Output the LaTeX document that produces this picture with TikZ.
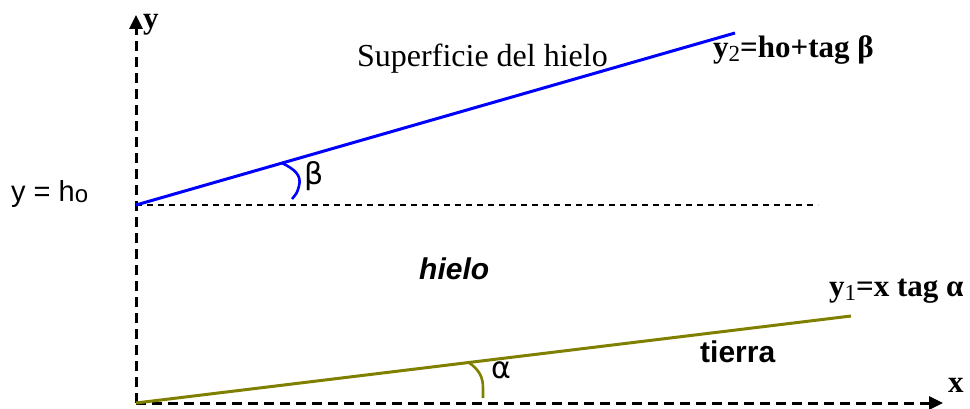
\documentclass[tikz,border=0pt]{standalone}
\usepackage{fontspec}
\setmainfont{Liberation Serif}
\setsansfont{Liberation Sans}
\newfontfamily\greeksans{DejaVu Sans}
\usetikzlibrary{arrows.meta}
\definecolor{olivec}{RGB}{128,128,0}
\definecolor{bluec}{RGB}{0,0,255}
\tikzset{
  axis/.style={line width=3pt, dash pattern=on 10pt off 6pt, -{Triangle[length=14pt,width=13pt]}},
  refline/.style={line width=1.6pt, dash pattern=on 6pt off 5pt},
  surf/.style={line width=3pt, bluec},
  ground/.style={line width=3pt, olivec},
  anglearc/.style={line width=2.6pt},
  sanslbl/.style={font=\fontsize{29}{32}\selectfont\sffamily, inner sep=0pt},
  seriflbl/.style={font=\fontsize{31}{34}\selectfont\bfseries, inner sep=0pt},
  plainserif/.style={font=\fontsize{32}{35}\selectfont, inner sep=0pt},
  greeklbl/.style={font=\fontsize{30}{33}\selectfont\greeksans, inner sep=0pt},
}
\newcommand{\mysub}[1]{\raisebox{-4pt}{\fontsize{23}{23}\selectfont\mdseries #1}}
\begin{document}
\begin{tikzpicture}[x=1pt,y=-1pt]
\useasboundingbox (0,0) rectangle (970,409);
% key points
\coordinate (O) at (136,403);
\coordinate (Ytop) at (136,15);
\coordinate (Xend) at (943,403);
\coordinate (H) at (136,205);
\coordinate (Hend) at (818,205);
\coordinate (S2) at (735,33);
\coordinate (S1) at (851,316);
% axes
\draw[axis] (O) -- (Ytop);
\draw[axis] (O) -- (Xend);
% reference line y = h_o
\draw[refline] (H) -- (Hend);
% ice surface and ground
\draw[surf] (H) -- (S2);
\draw[ground] (O) -- (S1);
% angle marks
\coordinate (b0) at (282,163);
\coordinate (b1) at (299,186);
\coordinate (b2) at (292,199);
\draw[anglearc, bluec] (b0) .. controls (294,169) and (302,175) .. (b1) .. controls (297,193) .. (b2);
\coordinate (a0) at (468,362);
\coordinate (a1) at (483,398);
\draw[anglearc, olivec] (a0) .. controls (480,370) and (483,378) .. (483,388) -- (a1);
% labels
\node[seriflbl, anchor=base west] (ylab) at (143,29) {y};
\node[seriflbl, anchor=base west] (xlab) at (948,392) {x};
\node[sanslbl, anchor=base west] (ho) at (11,202) {y = h\raisebox{-1pt}{\fontsize{24}{24}\selectfont o}};
\node[plainserif, anchor=base west] (sup) at (357,67) {Superficie del hielo};
\node[seriflbl, anchor=base west] (y2) at (713,58) {y\mysub{2}=ho+tag β};
\node[greeklbl, anchor=base west] (beta) at (304,185) {β};
\node[sanslbl, anchor=base west, font=\fontsize{30}{33}\selectfont\sffamily\bfseries\itshape] (hielo) at (419,279) {hielo};
\node[seriflbl, anchor=base west] (y1) at (829,296) {y\mysub{1}=x tag α};
\node[sanslbl, anchor=base west, font=\fontsize{30}{33}\selectfont\sffamily\bfseries] (tierra) at (700,362) {tierra};
\node[greeklbl, anchor=base west] (alpha) at (491,378) {α};
\end{tikzpicture}
\end{document}
